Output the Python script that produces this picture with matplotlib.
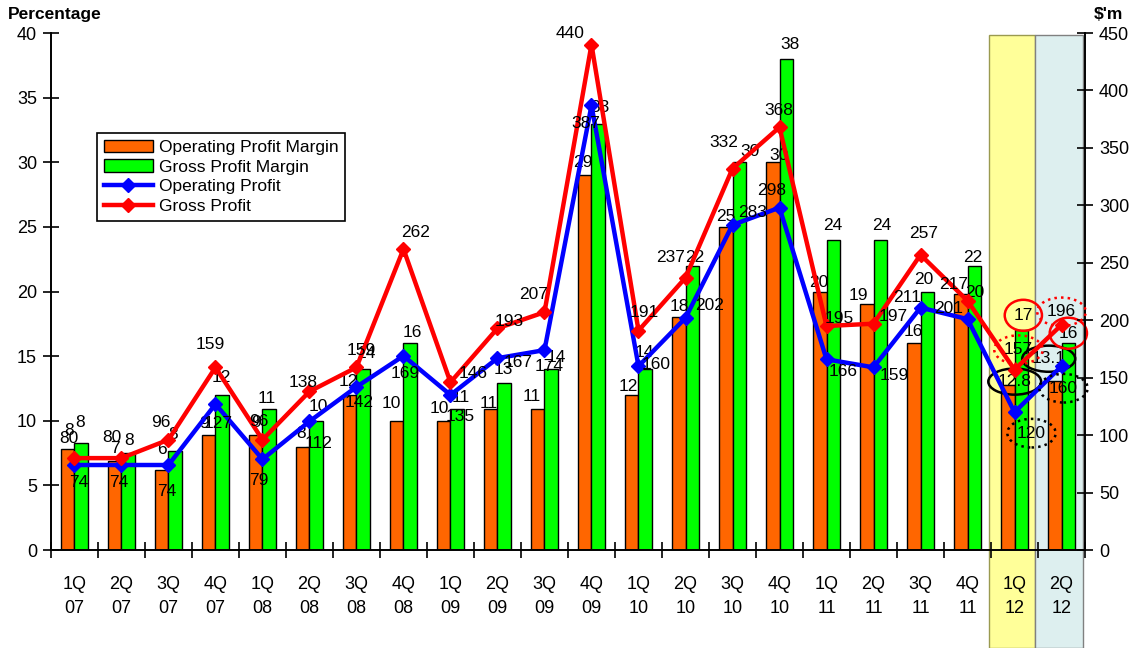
import matplotlib
matplotlib.use("Agg")
import matplotlib.pyplot as plt
from matplotlib.patches import Patch
from matplotlib.lines import Line2D

plt.rcParams['font.family'] = ['Liberation Sans', 'DejaVu Sans']

# quarterly data
quarters = ["1Q\n07", "2Q\n07", "3Q\n07", "4Q\n07", "1Q\n08", "2Q\n08", "3Q\n08", "4Q\n08",
            "1Q\n09", "2Q\n09", "3Q\n09", "4Q\n09", "1Q\n10", "2Q\n10", "3Q\n10", "4Q\n10",
            "1Q\n11", "2Q\n11", "3Q\n11", "4Q\n11", "1Q\n12", "2Q\n12"]
op_margin = [7.8, 6.9, 6.2, 8.9, 8.9, 8.0, 12.0, 10.0, 10.0, 10.9, 10.9, 29.0,
             12.0, 18.0, 25.0, 30.0, 20.0, 19.0, 16.0, 19.8, 12.8, 13.1]
gross_margin = [8.3, 7.5, 7.7, 12.0, 10.9, 10.0, 14.0, 16.0, 10.9, 12.9, 14.0, 33.0,
                14.0, 22.0, 30.0, 38.0, 24.0, 24.0, 20.0, 22.0, 17.0, 16.0]
op_profit = [74, 74, 74, 127, 79, 112, 142, 169, 135, 167, 174, 387,
             160, 202, 283, 298, 166, 159, 211, 201, 120, 160]
gross_profit = [80, 80, 96, 159, 96, 138, 159, 262, 146, 193, 207, 440,
                191, 237, 332, 368, 195, 197, 257, 217, 157, 196]

# label offsets in pixels (dx, dy), dy measured downwards
off_op_margin = [(1, -19), (0, -12), (0, -20), (-5, -11), (0, -12), (-2, -13), (-1, -13), (-5, -17),
                 (-4, -12), (-2, -6), (-6, -13), (-2, -13), (-3, -8), (1, -11), (0, -10), (6, -7),
                 (-1, -9), (-8, -9), (0, -12), (14, -2), (7, -3), (-6, -22)]
off_gross_margin = [(-1, -20), (1, -13), (-2, -16), (-1, -17), (-3, -11), (2, -14), (3, -16), (2, -11),
                    (3, -12), (-1, -14), (5, -12), (2, -16), (-1, -17), (2, -8), (11, -11), (4, -14),
                    (-1, -14), (1, -14), (-4, -12), (-2, -8), (2, -15), (0, -10)]
off_gross = [(-6, -20), (-10, -21), (-8, -17), (-5, -23), (-4, -18), (-6, -9), (5, -17), (12, -17),
             (23, -9), (12, -7), (-11, -18), (-21, -11), (6, -18), (-15, -20), (-9, -26), (-1, -17),
             (13, -8), (20, -7), (3, -21), (-14, -16), (4, -20), (0, -13)]
off_op = [(4, 17), (-3, 17), (-2, 26), (3, 19), (-4, 21), (9, 22), (3, 16), (2, 18),
          (10, 22), (21, 4), (5, 16), (-6, 18), (18, -2), (24, -12), (20, -12), (-8, -17),
          (17, 12), (21, 8), (-13, -10), (-19, -11), (17, 21), (2, 22)]

c_orange = '#FF6600'
c_green = '#00FF00'
c_blue = '#0000FF'
c_red = '#FF0000'
fs = 13
lfs = 12.5

fig = plt.figure(figsize=(11.3, 6.48), dpi=100)
ax = fig.add_axes([0.0451, 0.1512, 0.9151, 0.7978])
ax2 = ax.twinx()

x = list(range(len(quarters)))
w = 0.29

# highlighted quarters
span1 = ax.axvspan(19.46, 20.44, ymin=-0.19, ymax=0.996, facecolor='#FFFF99',
                   edgecolor='#9A9A50', lw=1, zorder=0)
span2 = ax.axvspan(20.44, 21.46, ymin=-0.19, ymax=0.996, facecolor='#DDEFEF',
                   edgecolor='#808080', lw=1, zorder=0)
span1.set_clip_on(False)
span2.set_clip_on(False)

ax.bar([i - w / 2 for i in x], op_margin, w, color=c_orange, edgecolor='black', lw=1, zorder=2)
ax.bar([i + w / 2 for i in x], gross_margin, w, color=c_green, edgecolor='black', lw=1, zorder=2)

ax2.plot(x, op_profit, color=c_blue, lw=3.2, marker='D', ms=7, zorder=3)
ax2.plot(x, gross_profit, color=c_red, lw=3.2, marker='D', ms=7, zorder=4)

ax.set_xlim(-0.5, 21.5)
ax.set_ylim(0, 40)
ax2.set_ylim(0, 450)
ax.set_yticks(range(0, 41, 5))
ax2.set_yticks(range(0, 451, 50))
ax.set_xticks(x)
ax.set_xticklabels(quarters, fontsize=fs, linespacing=1.5)
ax.set_xticks([i + 0.5 for i in range(-1, 22)], minor=True)

ax.tick_params(axis='x', which='major', length=0, pad=19)
ax.tick_params(axis='x', which='minor', direction='inout', length=11, width=1.2)
ax.tick_params(axis='y', direction='inout', length=12, width=1.2, labelsize=fs, pad=4)
ax2.tick_params(axis='y', direction='inout', length=12, width=1.2, labelsize=fs, pad=4)

for a in (ax, ax2):
    a.spines['top'].set_visible(False)
    for s in ('left', 'right', 'bottom'):
        a.spines[s].set_linewidth(1.2)
ax.patch.set_visible(False)


def label(a, xv, yv, txt, off, box=None):
    a.annotate(txt, (xv, yv), xytext=(off[0], -off[1]), textcoords='offset pixels',
               ha='center', va='center', fontsize=lfs, zorder=6, bbox=box,
               annotation_clip=False)


red_solid = dict(boxstyle='ellipse,pad=0.2', fc='none', ec=c_red, lw=1.8)
red_dot = dict(boxstyle='ellipse,pad=0.15', fc='none', ec=c_red, lw=1.8, ls=':')
blk_solid = dict(boxstyle='ellipse,pad=0.1', fc='none', ec='black', lw=1.8)
blk_dot = dict(boxstyle='ellipse,pad=0.15', fc='none', ec='black', lw=1.8, ls=':')

for i in x:
    om = op_margin[i]
    om_txt = "%.1f" % om if i >= 20 else "%d" % round(om)
    label(ax, i - w / 2, om, om_txt, off_op_margin[i], blk_solid if i >= 20 else None)
    label(ax, i + w / 2, gross_margin[i], "%d" % round(gross_margin[i]), off_gross_margin[i],
          red_solid if i >= 20 else None)
    label(ax2, i, gross_profit[i], "%d" % gross_profit[i], off_gross[i],
          red_dot if i >= 20 else None)
    label(ax2, i, op_profit[i], "%d" % op_profit[i], off_op[i],
          blk_dot if i >= 20 else None)

handles = [Patch(facecolor=c_orange, edgecolor='black'),
           Patch(facecolor=c_green, edgecolor='black'),
           Line2D([], [], color=c_blue, lw=3.2, marker='D', ms=7),
           Line2D([], [], color=c_red, lw=3.2, marker='D', ms=7)]
names = ["Operating Profit Margin", "Gross Profit Margin", "Operating Profit", "Gross Profit"]
leg = ax2.legend(handles, names, loc='upper left', bbox_to_anchor=(0.0445, 0.8066),
                 borderaxespad=0, fontsize=12.5, frameon=True, fancybox=False, framealpha=1,
                 edgecolor='black', handlelength=2.8, handleheight=0.7, labelspacing=0.25,
                 borderpad=0.4, handletextpad=0.35)
leg.get_frame().set_linewidth(1.2)
leg.set_zorder(10)

fig.text(0.007, 0.977, "Percentage", fontsize=12.5, fontweight='bold', va='center', ha='left')
fig.text(0.968, 0.977, "$'m", fontsize=12.5, fontweight='bold', va='center', ha='left')

fig.savefig("out.png", dpi=100)
